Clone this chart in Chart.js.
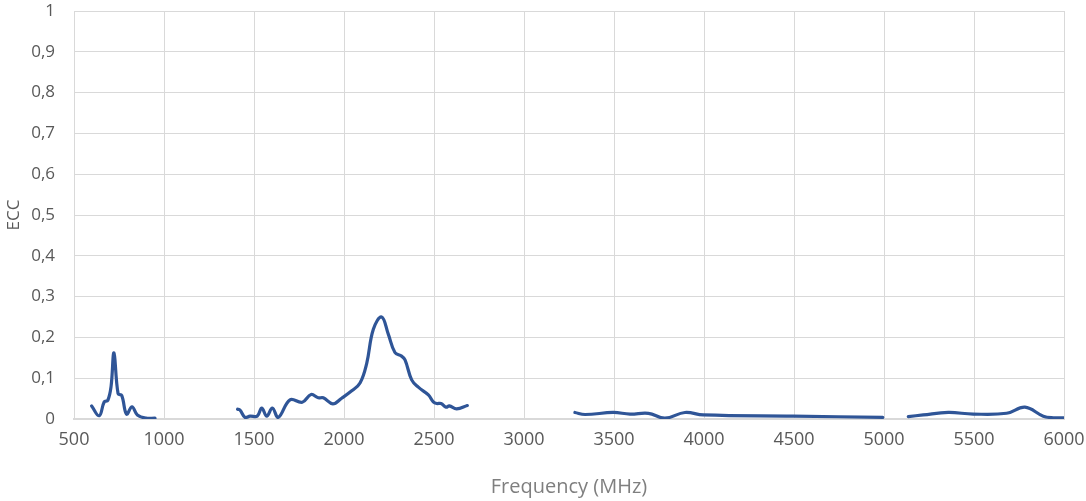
<!DOCTYPE html>
<html>
<head>
<meta charset="utf-8">
<script src="https://cdn.jsdelivr.net/npm/chart.js@4"></script>
<style>
html,body{margin:0;padding:0;background:#fff;}
#wrap{width:1086px;height:501px;position:relative;}
</style>
</head>
<body>
<div id="wrap"><canvas id="c" width="1086" height="501"></canvas></div>
<script>
// Band 1
const freq1 = [598, 640, 668, 688, 706, 722, 745, 765, 792, 822, 852, 900, 950];
const ecc1  = [0.032, 0.008, 0.042, 0.046, 0.08, 0.162, 0.062, 0.058, 0.012, 0.03, 0.01, 0.002, 0.002];
// Band 2
const freq2 = [1409, 1422, 1450, 1478, 1518, 1543, 1571, 1602, 1635, 1700, 1768, 1817, 1857, 1885, 1938, 1987, 2043, 2089, 2126, 2163, 2209, 2246, 2283, 2320, 2339, 2376, 2413, 2469, 2496, 2515, 2539, 2567, 2585, 2626, 2685];
const ecc2  = [0.024, 0.022, 0.004, 0.007, 0.007, 0.027, 0.007, 0.027, 0.004, 0.047, 0.041, 0.06, 0.052, 0.052, 0.037, 0.051, 0.069, 0.088, 0.136, 0.22, 0.25, 0.208, 0.163, 0.154, 0.145, 0.096, 0.078, 0.059, 0.042, 0.038, 0.038, 0.029, 0.032, 0.025, 0.033];
// Band 3
const freq3 = [3283, 3339, 3496, 3589, 3691, 3783, 3894, 3996, 4496, 4993];
const ecc3  = [0.016, 0.011, 0.016, 0.012, 0.014, 0.002, 0.016, 0.01, 0.007, 0.004];
// Band 4
const freq4 = [5135, 5218, 5357, 5496, 5681, 5783, 5885, 5941, 5996];
const ecc4  = [0.006, 0.01, 0.016, 0.012, 0.014, 0.029, 0.007, 0.003, 0.003];

const yTickLabels = ['0', '0,1', '0,2', '0,3', '0,4', '0,5', '0,6', '0,7', '0,8', '0,9', '1'];
const xTitle = 'Frequency (MHz)';
const yTitle = 'ECC';

const lineColor = '#2F5597';
function pts(f, e) { return f.map((x, i) => ({x: x, y: e[i]})); }
function ds(f, e) {
  return {
    data: pts(f, e),
    borderColor: lineColor,
    borderWidth: 3.2,
    pointRadius: 0,
    tension: 0.4,
    fill: false,
    borderCapStyle: 'round',
    borderJoinStyle: 'round'
  };
}

new Chart(document.getElementById('c'), {
  type: 'line',
  data: {
    datasets: [ds(freq1, ecc1), ds(freq2, ecc2), ds(freq3, ecc3), ds(freq4, ecc4)]
  },
  options: {
    responsive: false,
    animation: false,
    layout: { padding: { top: 0, right: 0, left: 0, bottom: 0 } },
    plugins: { legend: { display: false }, tooltip: { enabled: false } },
    scales: {
      x: {
        type: 'linear',
        min: 500, max: 6000,
        ticks: {
          stepSize: 500,
          color: '#595959',
          font: { family: 'Open Sans', size: 18 },
          padding: 10,
          maxRotation: 0,
          callback: v => String(v)
        },
        grid: { color: '#d9d9d9', lineWidth: 1, drawTicks: false },
        border: { display: true, color: '#d9d9d9', width: 2 },
        title: {
          display: true, text: xTitle, color: '#7f7f7f',
          font: { family: 'Open Sans', size: 20 },
          padding: { top: 0, bottom: 2 }
        },
        afterFit: s => { s.height = 82; s.paddingLeft = 0; s.paddingRight = 22; }
      },
      y: {
        min: 0, max: 1,
        ticks: {
          stepSize: 0.1,
          color: '#595959',
          font: { family: 'Open Sans', size: 17 },
          padding: 19,
          callback: (v) => yTickLabels[Math.round(v * 10)]
        },
        grid: { color: '#d9d9d9', lineWidth: 1, drawTicks: false },
        border: { display: false },
        title: {
          display: true, text: yTitle, color: '#595959',
          font: { family: 'Open Sans', size: 17 },
          padding: { top: 4, bottom: 0 }
        },
        afterFit: s => { s.width = 74; s.paddingTop = 11; s.paddingBottom = 0; }
      }
    }
  },
  plugins: [{
    id: 'bg',
    beforeDraw: ch => { const c = ch.ctx; c.save(); c.fillStyle = '#fff'; c.fillRect(0, 0, ch.width, ch.height); c.restore(); }
  }]
});
</script>
</body>
</html>
